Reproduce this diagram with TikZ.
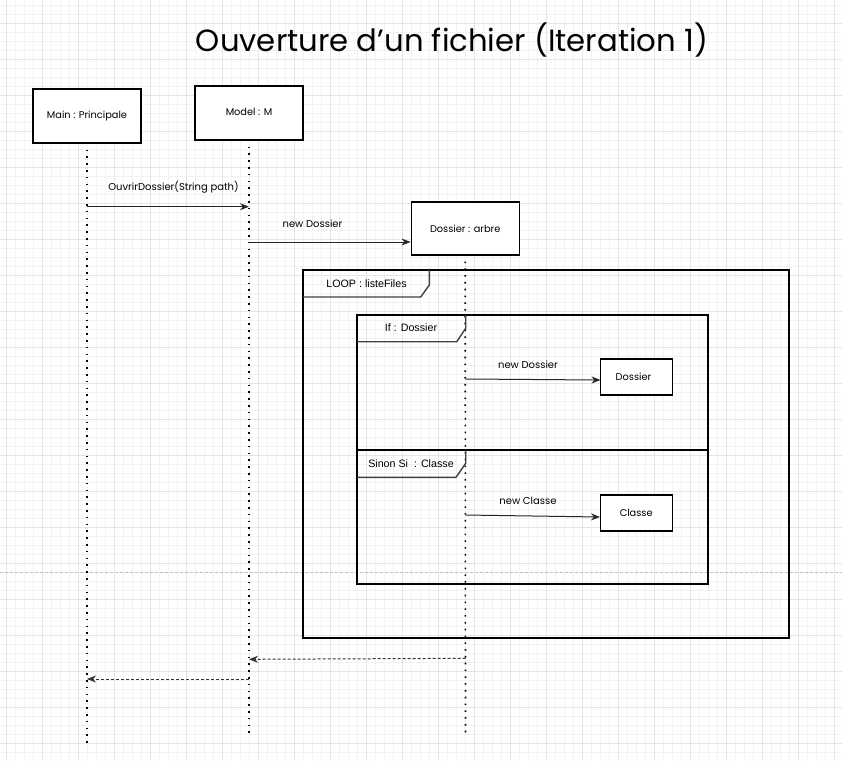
\documentclass[tikz,border=0pt]{standalone}
\usepackage{fontspec}
\setmainfont{Liberation Sans}
\newfontfamily\hand{Poppins}
\usetikzlibrary{arrows.meta}
\begin{document}
\begin{tikzpicture}[x=1pt,y=-1pt,
  gridminor/.style={draw=black!5,line width=0.6pt},
  gridmajor/.style={draw=black!10,line width=0.8pt},
  objbox/.style={draw=black,line width=1.2pt,fill=white,inner sep=0pt,font=\hand\fontsize{9.8}{11}\selectfont},
  lifeline/.style={draw=black,line width=1.6pt,dash pattern=on 1.6pt off 5.2pt},
  msg/.style={draw=black!85,line width=1pt,-{Stealth[length=9pt,width=7pt]}},
  retmsg/.style={draw=black!80,line width=1pt,dash pattern=on 3pt off 2pt,-{Stealth[length=9pt,width=7pt]}},
  msglabel/.style={font=\hand\fontsize{10}{11}\selectfont,inner sep=0pt},
  frame/.style={draw=black,line width=1.2pt},
  tab/.style={draw=black!75,line width=1.4pt},
  tablabel/.style={font=\fontsize{10.7}{12}\selectfont,inner sep=0pt}
]
\useasboundingbox (0,0) rectangle (842,761);
\fill[white] (0,0) rectangle (842,761);
% grid
\foreach \x in {6.7,15.7,...,842} \draw[gridminor] (\x,0) -- (\x,761);
\foreach \y in {5.3,14.3,...,761} \draw[gridminor] (0,\y) -- (842,\y);
\foreach \x in {6.7,42.7,...,842} \draw[gridmajor] (\x,0) -- (\x,761);
\foreach \y in {23.3,59.3,...,761} \draw[gridmajor] (0,\y) -- (842,\y);
% page break line
\draw[black!25,line width=0.8pt,dash pattern=on 3pt off 2pt] (0,572.3) -- (842,572.3);

% title
\node[font=\hand\fontsize{30.7}{34}\selectfont,inner sep=0pt] (title) at (452,40) {Ouverture d’un fichier (Iteration 1)};

% frames
\draw[frame] (303,270) rectangle (789,638);
\draw[frame] (357,315) rectangle (708,584);
\draw[frame] (357,450) -- (708,450);

% objects
\node[objbox,minimum width=108pt,minimum height=54pt] (main) at (87,116) {Main : Principale};
\node[objbox,minimum width=108pt,minimum height=54pt] (model) at (249,113) {\raisebox{2pt}{Model : M}};
\node[objbox,minimum width=108pt,minimum height=53pt] (dos) at (465.2,228.4) {Dossier : arbre};

% lifeline ends
\coordinate (mainend) at (87,746);
\coordinate (modelend) at (249,737);
\coordinate (dosend) at (465.5,737);
\draw[lifeline] ([yshift=-6pt]main.south) -- (mainend);
\draw[lifeline] ([yshift=-6pt]model.south) -- (modelend);
\draw[lifeline] ([yshift=-6pt]dos.south) -- (dosend);

% tabs
\draw[tab] (303,297) -- (420.7,297) -- (429.3,285) -- (429.3,270);
\node[tablabel] (looplbl) at (366.5,283.5) {LOOP : listeFiles};
\draw[tab] (357,341.7) -- (456.7,341.7) -- (465.7,328.3) -- (465.7,315);
\node[tablabel] (iflbl) at (411,327.5) {If : Dossier};
\draw[tab] (357,477.3) -- (456,477.3) -- (465.7,463.3) -- (465.7,450);
\node[tablabel] (sinonlbl) at (411,463.5) {Sinon Si\ \ : Classe};

% inner boxes
\node[objbox,minimum width=72pt,minimum height=36pt] (dos2) at (636.5,377) {\hspace*{-6pt}\raisebox{1pt}{Dossier}};
\node[objbox,minimum width=72pt,minimum height=36pt] (classe) at (636.2,513) {\raisebox{1pt}{Classe}};

% messages
\coordinate (m1s) at (87,206.7);
\coordinate (m1e) at (249,206.7);
\draw[msg] (m1s) -- (m1e);
\node[msglabel] (m1l) at (173.5,187) {OuvrirDossier(String path)};

\coordinate (m2s) at (249,242);
\draw[msg] (m2s) -- (m2s -| dos.west);
\node[msglabel] (m2l) at (312.5,223.5) {new Dossier};

\coordinate (m3s) at (465.5,379);
\draw[msg] (m3s) -- (600.5,380);
\node[msglabel] (m3l) at (528,365) {new Dossier};

\coordinate (m4s) at (465.5,515);
\draw[msg] (m4s) -- (600,517);
\node[msglabel] (m4l) at (528,500.5) {new Classe};

% returns
\coordinate (r1s) at (465.5,658.3);
\coordinate (r1e) at (249,659.3);
\draw[retmsg] (r1s) -- (r1e);
\coordinate (r2s) at (249,679);
\coordinate (r2e) at (87,679);
\draw[retmsg] (r2s) -- (r2e);
\end{tikzpicture}
\end{document}
